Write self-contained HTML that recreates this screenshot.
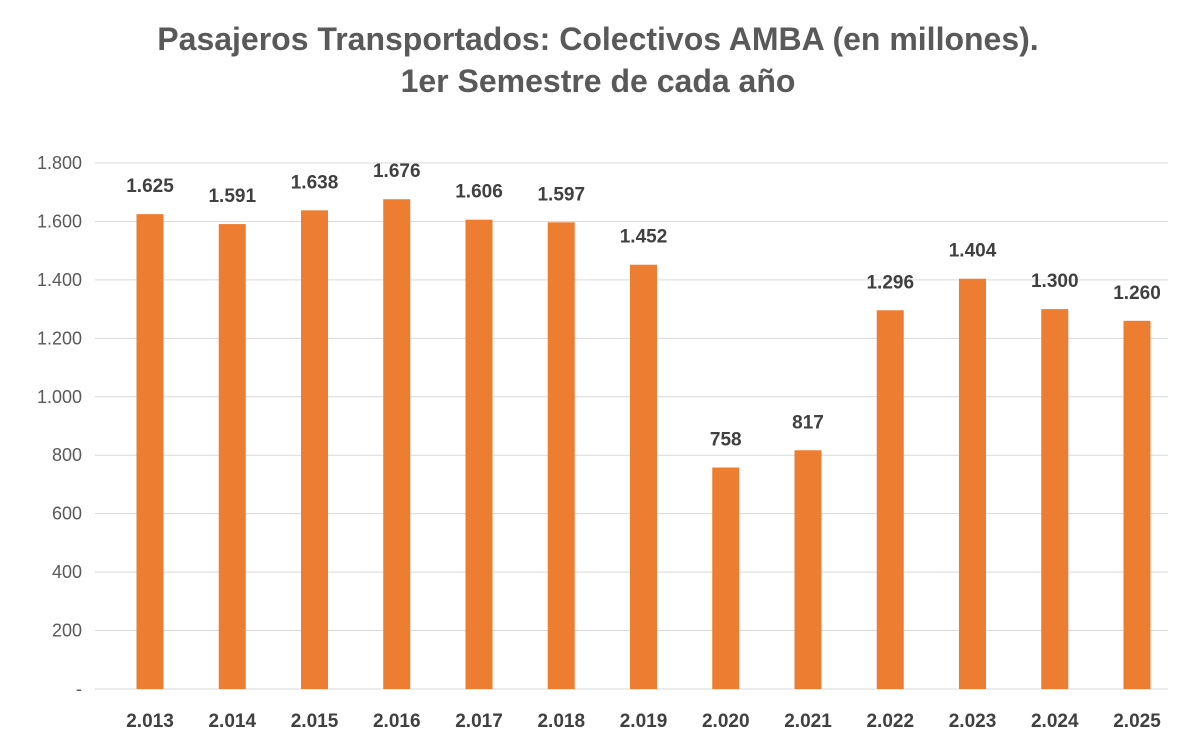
<!DOCTYPE html>
<html><head><meta charset="utf-8"><style>
body{margin:0;background:#fff;}
svg{display:block;font-family:"Liberation Sans",Arial,sans-serif;}
</style></head><body>
<svg id="chart" width="1200" height="740">
<text x="598" y="50" text-anchor="middle" font-size="32" font-weight="bold" fill="#595959">Pasajeros Transportados: Colectivos AMBA (en millones).</text>
<text x="598" y="92" text-anchor="middle" font-size="32" font-weight="bold" fill="#595959">1er Semestre de cada año</text>
<g id="grid"></g><g id="bars"></g><g id="labels"></g>
</svg>
<script>
const categories=["2.013","2.014","2.015","2.016","2.017","2.018","2.019","2.020","2.021","2.022","2.023","2.024","2.025"];
const values=[1625,1591,1638,1676,1606,1597,1452,758,817,1296,1404,1300,1260];
const valueLabels=["1.625","1.591","1.638","1.676","1.606","1.597","1.452","758","817","1.296","1.404","1.300","1.260"];
const ticks=[0,200,400,600,800,1000,1200,1400,1600,1800];
const tickLabels=["-","200","400","600","800","1.000","1.200","1.400","1.600","1.800"];
const NS="http://www.w3.org/2000/svg";
const y=v=>689-v*(689-163)/1800;
const x=i=>150+i*82.25;
function mk(t,a,p){const e=document.createElementNS(NS,t);for(const k in a)e.setAttribute(k,a[k]);p.appendChild(e);return e;}
const g=document.getElementById('grid'),b=document.getElementById('bars'),l=document.getElementById('labels');
ticks.forEach((t,i)=>{
 const ln=mk('line',{x1:95,x2:1168,y1:y(t),y2:y(t),stroke:'#d9d9d9','stroke-width':1},g);
 
 
 const tx=mk('text',{x:82,y:y(t)+6,'text-anchor':'end','font-size':18,fill:'#595959'},g);
 tx.textContent=tickLabels[i];
 
 
});
values.forEach((v,i)=>{
 const r=mk('rect',{x:x(i)-13.5,y:y(v),width:27,height:y(0)-y(v),fill:'#ed7d31'},b);
 
 
 const vl=mk('text',{x:x(i),y:y(v)-22,'text-anchor':'middle','font-size':19,'font-weight':'bold',fill:'#404040'},l);
 vl.textContent=valueLabels[i];
 
 
 const cl=mk('text',{x:x(i),y:727,'text-anchor':'middle','font-size':19,'font-weight':'bold',fill:'#404040'},l);
 cl.textContent=categories[i];
 
 
});
</script>
</body></html>
